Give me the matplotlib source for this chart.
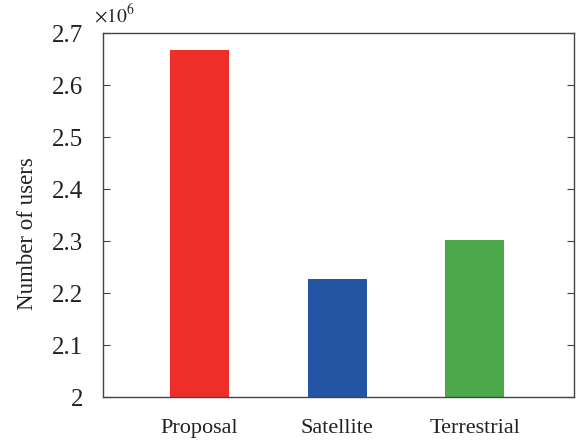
import matplotlib
matplotlib.use("Agg")
import matplotlib.pyplot as plt

categories = ["Proposal", "Satellite", "Terrestrial"]
users = [2.668e6, 2.226e6, 2.301e6]
colors = ["#EE2E29", "#2455A4", "#4AA84B"]
yticks = [2.0, 2.1, 2.2, 2.3, 2.4, 2.5, 2.6, 2.7]

plt.rcParams['font.family'] = ['Liberation Serif', 'DejaVu Serif']
plt.rcParams['mathtext.fontset'] = 'stix'

fig = plt.figure(figsize=(5.84, 4.43), dpi=100)
ax = fig.add_axes([103/584, 1-397/443, 471/584, 364/443])

x = [1, 2, 3]
vals = [v / 1e6 for v in users]
ax.bar(x, [v - 2.0 for v in vals], bottom=2.0, width=0.43, color=colors)
ax.set_xlim(0.3, 3.72)
ax.set_ylim(2.0, 2.7)
ax.set_xticks(x)
ax.set_xticklabels(categories, fontsize=16)
ax.set_yticks(yticks)
ax.set_yticklabels([f"{t:g}" for t in yticks], fontsize=18)
ax.tick_params(axis='x', length=0, pad=16, colors='#222222')
ax.tick_params(axis='y', direction='in', length=5, right=True, pad=14, colors='#444444', labelcolor='#222222')
for s in ax.spines.values():
    s.set_color('#444444')
    s.set_linewidth(1.0)
ax.set_ylabel("Number of users", fontsize=16.5, color='#222222')
ax.yaxis.set_label_coords(-0.137, 0.448)
ax.text(-0.02, 1.02, r"$\times10^{6}$", transform=ax.transAxes, fontsize=14, color='#222222',
        ha='left', va='bottom')

fig.savefig("out.png", dpi=100)
